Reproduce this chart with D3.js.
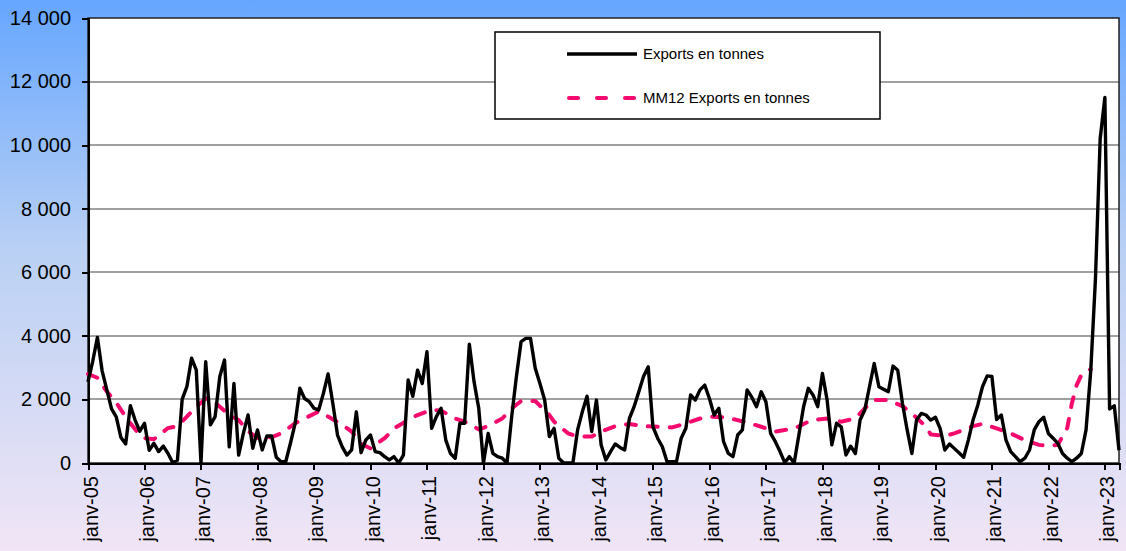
<!DOCTYPE html>
<meta charset="utf-8">
<style>
body { margin: 0; }
svg { font-family: "Liberation Sans", Arial, sans-serif; display: block; }
.grid line { stroke: #a0a0a0; stroke-width: 2; shape-rendering: crispEdges; }
.axis path, .axis line { stroke: #000; stroke-width: 2; shape-rendering: crispEdges; }
.axis text { font-size: 20px; fill: #000; }
.exports { fill: none; stroke: #000; stroke-width: 3.4; stroke-linejoin: round; }
.mm12 { fill: none; stroke: #f50a6e; stroke-width: 4; stroke-dasharray: 10,12; stroke-linecap: round; }
.legend text { font-size: 15px; fill: #000; }
</style>
<body>
<script src="https://cdn.jsdelivr.net/npm/d3@7"></script>
<script>

var width = 1126,
    height = 551;

// monthly exports (tonnes), janv-05 .. avr-23
var exports = [
  2550, 3200, 3950, 2900, 2300, 1700, 1450, 800, 600, 1800, 1350, 1000,
  1250, 400, 620, 360, 530, 300, 10, 90, 2000, 2400, 3300, 2920,
  0, 3190, 1200, 1460, 2720, 3240, 510, 2500, 250, 930, 1510, 460,
  1040, 410, 850, 850, 180, 40, 40, 620, 1250, 2350, 2030, 1930,
  1720, 1670, 2190, 2800, 1880, 880, 510, 250, 410, 1610, 325, 720,
  880, 360, 325, 200, 95, 200, 0, 250, 2610, 2100, 2920, 2500,
  3500, 1090, 1460, 1720, 720, 300, 150, 1250, 1250, 3740, 2560, 1720,
  0, 930, 300, 200, 150, 0, 1460, 2720, 3820, 3920, 3920, 2980,
  2500, 1980, 830, 1090, 150, 10, 0, 0, 1040, 1610, 2100, 990,
  1980, 570, 95, 360, 600, 490, 410, 1400, 1770, 2240, 2720, 3030,
  1140, 780, 510, 40, 40, 40, 780, 1090, 2140, 1980, 2300, 2450,
  2030, 1510, 1720, 670, 300, 200, 880, 1040, 2300, 2070, 1770, 2240,
  1930, 930, 670, 360, 10, 200, 0, 880, 1770, 2350, 2140, 1770,
  2820, 1980, 570, 1250, 1140, 250, 530, 300, 1350, 1670, 2400, 3130,
  2400, 2320, 2240, 3050, 2920, 1880, 1040, 300, 1350, 1560, 1510, 1350,
  1440, 1090, 410, 600, 460, 325, 180, 720, 1350, 1820, 2400, 2740,
  2720, 1370, 1510, 720, 360, 200, 40, 150, 410, 1040, 1300, 1440,
  930, 780, 620, 300, 150, 40, 150, 300, 1040, 2900, 5800, 10200,
  11500, 1700, 1800, 400
];

// MM12 (month index, value)
var mmMonths = [0, 2, 4, 6, 8, 9, 11, 12, 14, 17, 19, 21, 23, 25, 27, 30, 32, 34, 36, 39,
  41, 44, 46, 49, 51, 54, 56, 58, 60, 63, 65, 68, 70, 73, 75, 78, 80, 83, 85, 88,
  90, 92, 95, 98, 99, 102, 104, 107, 109, 112, 115, 118, 121, 124, 126, 130, 132, 135, 138, 141,
  143, 146, 149, 151, 153, 154, 157, 160, 163, 165, 167, 170, 173, 175, 178, 179, 182, 184, 188, 190,
  193, 196, 199, 202, 204, 206, 208, 209, 210, 211, 213];
var mmValues = [2800, 2680, 2250, 1900, 1450, 1250, 880, 780, 750, 1100, 1160, 1460, 1770, 2030, 1900, 1510, 1350, 1000, 790, 810,
  930, 1250, 1400, 1620, 1460, 1200, 990, 600, 460, 780, 1090, 1350, 1510, 1670, 1650, 1400, 1300, 1060, 1160, 1400,
  1720, 1950, 1950, 1510, 1300, 930, 830, 830, 990, 1160, 1230, 1160, 1140, 1120, 1200, 1400, 1460, 1440, 1350, 1230,
  1140, 990, 1060, 1150, 1300, 1350, 1400, 1300, 1400, 1720, 1980, 1980, 1790, 1560, 1140, 900, 850, 930, 1160, 1230,
  1090, 930, 720, 570, 535, 570, 1100, 1880, 2450, 2770, 2950];

var yTicks = [0, 2000, 4000, 6000, 8000, 10000, 12000, 14000];
var xTickMonths = d3.range(0, 217, 12);
var xTickLabels = ["janv-05", "janv-06", "janv-07", "janv-08", "janv-09", "janv-10", "janv-11",
  "janv-12", "janv-13", "janv-14", "janv-15", "janv-16", "janv-17", "janv-18", "janv-19",
  "janv-20", "janv-21", "janv-22", "janv-23"];
var seriesNames = ["Exports en tonnes", "MM12 Exports en tonnes"];

var plot = {left: 88, right: 1119, top: 18, bottom: 463};

var svg = d3.select("body").append("svg")
    .attr("width", width)
    .attr("height", height);

// background gradient
var grad = svg.append("defs").append("linearGradient")
    .attr("id", "bg")
    .attr("x1", 0).attr("y1", 0).attr("x2", 0).attr("y2", 1);
grad.append("stop").attr("offset", "0%").attr("stop-color", "#66a6ff");
grad.append("stop").attr("offset", "45%").attr("stop-color", "#b9d0f4");
grad.append("stop").attr("offset", "100%").attr("stop-color", "#f1e5f6");

svg.append("rect")
    .attr("width", width)
    .attr("height", height)
    .attr("fill", "url(#bg)");

var x = d3.scaleLinear()
    .domain([0, exports.length - 1])
    .range([plot.left, plot.right]);

var y = d3.scaleLinear()
    .domain([0, 14000])
    .range([plot.bottom, plot.top]);

var fr = d3.formatLocale({decimal: ",", thousands: " ", grouping: [3], currency: ["", " €"]});

// plot area
svg.append("rect")
    .attr("x", plot.left)
    .attr("y", plot.top)
    .attr("width", plot.right - plot.left)
    .attr("height", plot.bottom - plot.top)
    .attr("fill", "#fff");

// gridlines
svg.append("g")
    .attr("class", "grid")
    .selectAll("line")
    .data(yTicks.slice(1, -1))
    .enter().append("line")
      .attr("x1", plot.left)
      .attr("x2", plot.right)
      .attr("y1", function(d) { return y(d); })
      .attr("y2", function(d) { return y(d); });

// plot border
svg.append("rect")
    .attr("x", plot.left)
    .attr("y", plot.top)
    .attr("width", plot.right - plot.left)
    .attr("height", plot.bottom - plot.top)
    .attr("fill", "none")
    .attr("stroke", "#222")
    .attr("stroke-width", 1.5);

// y axis
svg.append("g")
    .attr("class", "axis")
    .attr("transform", "translate(" + plot.left + ",0)")
    .call(d3.axisLeft(y)
      .tickValues(yTicks)
      .tickSize(6)
      .tickPadding(11)
      .tickFormat(fr.format(",")));

// x axis
svg.append("g")
    .attr("class", "axis")
    .attr("transform", "translate(0," + plot.bottom + ")")
    .call(d3.axisBottom(x)
      .tickValues(xTickMonths)
      .tickSize(7)
      .tickFormat(function(d, i) { return xTickLabels[i]; }))
    .selectAll("text")
      .attr("text-anchor", "end")
      .attr("transform", "rotate(-90)")
      .attr("x", -13)
      .attr("y", 0)
      .attr("dy", "0.45em");

// MM12 dashed line
svg.append("path")
    .datum(d3.zip(mmMonths, mmValues))
    .attr("class", "mm12")
    .attr("d", d3.line()
      .x(function(d) { return x(d[0]); })
      .y(function(d) { return y(d[1]); }));

// exports line
svg.append("path")
    .datum(exports)
    .attr("class", "exports")
    .attr("d", d3.line()
      .x(function(d, i) { return x(i); })
      .y(function(d) { return y(d); }));

// legend
var legend = svg.append("g").attr("class", "legend");

legend.append("rect")
    .attr("x", 495)
    .attr("y", 32)
    .attr("width", 385)
    .attr("height", 87)
    .attr("fill", "#fff")
    .attr("stroke", "#000")
    .attr("stroke-width", 1.5);

var rows = legend.selectAll("g.row")
    .data(seriesNames)
    .enter().append("g")
      .attr("class", "row")
      .attr("transform", function(d, i) { return "translate(567," + (54 + i * 44) + ")"; });

rows.append("line")
    .attr("x1", function(d, i) { return i ? 2 : 0; })
    .attr("x2", function(d, i) { return i ? 70 : 70; })
    .attr("class", function(d, i) { return i ? "mm12" : "exports"; })
    .style("stroke-dasharray", function(d, i) { return i ? "9,19" : null; });

rows.append("text")
    .attr("x", 76)
    .attr("dy", "0.35em")
    .text(function(d) { return d; });

</script>
</body>
